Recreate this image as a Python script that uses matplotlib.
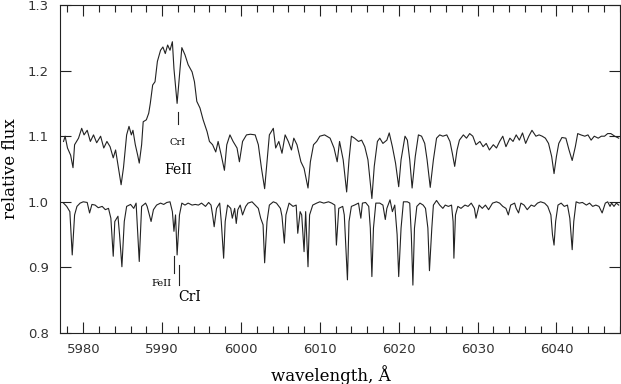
import matplotlib
matplotlib.use("Agg")
import matplotlib.pyplot as plt
from matplotlib.ticker import MultipleLocator

# upper spectrum (shifted by +0.1)
wl_top = [5977.5, 5977.7, 5978.0, 5978.4, 5978.7, 5978.9, 5979.4, 5979.8, 5980.1, 5980.5,
          5980.9, 5981.3, 5981.7, 5982.2, 5982.6, 5983.0, 5983.4, 5983.8, 5984.1, 5984.4,
          5984.8, 5985.1, 5985.5, 5985.8, 5986.1, 5986.3, 5986.6, 5986.9, 5987.1, 5987.4,
          5987.6, 5988.0, 5988.3, 5988.5, 5988.8, 5989.1, 5989.4, 5989.8, 5990.1, 5990.4,
          5990.7, 5991.0, 5991.3, 5991.5, 5991.9, 5992.2, 5992.5, 5992.9, 5993.3, 5993.8,
          5994.1, 5994.4, 5994.8, 5995.2, 5995.7, 5996.0, 5996.4, 5996.8, 5997.1, 5997.5,
          5997.9, 5998.2, 5998.6, 5999.0, 5999.5, 5999.8, 6000.2, 6000.7, 6001.2, 6001.8,
          6002.2, 6002.6, 6003.0, 6003.3, 6003.6, 6004.1, 6004.4, 6004.8, 6005.2, 6005.6,
          6006.0, 6006.4, 6006.7, 6007.1, 6007.6, 6008.0, 6008.5, 6008.8, 6009.2, 6009.6,
          6010.0, 6010.6, 6011.3, 6011.8, 6012.2, 6012.5, 6012.96, 6013.4, 6013.7, 6014.0,
          6014.4, 6014.9, 6015.3, 6015.7, 6016.1, 6016.6, 6016.9, 6017.3, 6017.6, 6018.0,
          6018.5, 6018.8, 6019.2, 6019.6, 6020.0, 6020.3, 6020.8, 6021.1, 6021.4, 6021.7,
          6022.1, 6022.5, 6022.9, 6023.3, 6023.6, 6024.0, 6024.4, 6024.8, 6025.2, 6025.6,
          6026.1, 6026.5, 6026.8, 6027.1, 6027.4, 6027.7, 6028.2, 6028.6, 6029.0, 6029.4,
          6029.8, 6030.3, 6030.7, 6031.1, 6031.5, 6032.0, 6032.4, 6032.8, 6033.2, 6033.6,
          6034.1, 6034.5, 6034.9, 6035.3, 6035.7, 6036.1, 6036.5, 6036.9, 6037.4, 6037.8,
          6038.2, 6038.6, 6039.0, 6039.4, 6039.7, 6040.0, 6040.3, 6040.7, 6041.2, 6041.6,
          6042.0, 6042.4, 6042.7, 6043.1, 6043.6, 6044.0, 6044.4, 6044.8, 6045.3, 6045.7,
          6046.1, 6046.5, 6046.9, 6047.4, 6047.9]
flux_top = [1.092, 1.100, 1.082, 1.071, 1.052, 1.087, 1.097, 1.112, 1.102, 1.109,
            1.092, 1.102, 1.090, 1.100, 1.082, 1.092, 1.084, 1.067, 1.079, 1.056,
            1.026, 1.052, 1.102, 1.115, 1.102, 1.109, 1.087, 1.071, 1.059, 1.087,
            1.122, 1.125, 1.135, 1.150, 1.178, 1.183, 1.214, 1.231, 1.236, 1.226,
            1.239, 1.231, 1.244, 1.203, 1.150, 1.193, 1.235, 1.224, 1.209, 1.198,
            1.183, 1.153, 1.143, 1.125, 1.107, 1.092, 1.087, 1.076, 1.092, 1.071,
            1.048, 1.087, 1.102, 1.092, 1.082, 1.061, 1.092, 1.102, 1.103, 1.102,
            1.087, 1.051, 1.020, 1.061, 1.102, 1.112, 1.082, 1.092, 1.074, 1.102,
            1.092, 1.079, 1.097, 1.087, 1.061, 1.051, 1.021, 1.061, 1.087, 1.092,
            1.100, 1.102, 1.097, 1.082, 1.061, 1.092, 1.064, 1.015, 1.064, 1.100,
            1.097, 1.092, 1.094, 1.084, 1.064, 1.005, 1.054, 1.092, 1.097, 1.089,
            1.094, 1.105, 1.084, 1.059, 1.023, 1.064, 1.100, 1.094, 1.064, 1.021,
            1.069, 1.102, 1.100, 1.089, 1.064, 1.022, 1.064, 1.097, 1.102, 1.100,
            1.102, 1.092, 1.074, 1.054, 1.079, 1.094, 1.102, 1.097, 1.104, 1.100,
            1.087, 1.092, 1.084, 1.089, 1.079, 1.087, 1.082, 1.092, 1.100, 1.084,
            1.097, 1.092, 1.102, 1.094, 1.105, 1.089, 1.100, 1.109, 1.100, 1.102,
            1.100, 1.097, 1.089, 1.069, 1.043, 1.069, 1.089, 1.098, 1.097, 1.079,
            1.063, 1.084, 1.104, 1.102, 1.100, 1.102, 1.094, 1.100, 1.097, 1.100,
            1.100, 1.104, 1.104, 1.100, 1.097]

# lower spectrum
wl_bot = [5977.5, 5977.9, 5978.3, 5978.6, 5978.9, 5979.2, 5979.6, 5980.0, 5980.5, 5980.8,
          5981.1, 5981.5, 5981.9, 5982.4, 5982.8, 5983.2, 5983.5, 5983.8, 5984.0, 5984.4,
          5984.6, 5984.9, 5985.2, 5985.5, 5986.0, 5986.4, 5986.7, 5987.1, 5987.4, 5987.9,
          5988.1, 5988.6, 5988.9, 5989.3, 5989.8, 5990.2, 5990.6, 5991.0, 5991.3, 5991.5,
          5991.7, 5991.9, 5992.2, 5992.5, 5992.9, 5993.3, 5993.8, 5994.2, 5994.6, 5995.0,
          5995.5, 5995.9, 5996.2, 5996.4, 5996.6, 5996.9, 5997.3, 5997.5, 5997.8, 5998.0,
          5998.3, 5998.7, 5998.9, 5999.2, 5999.4, 5999.6, 5999.9, 6000.2, 6000.6, 6000.9,
          6001.4, 6001.8, 6002.2, 6002.5, 6002.8, 6003.0, 6003.3, 6003.6, 6004.1, 6004.5,
          6005.0, 6005.2, 6005.5, 6005.7, 6006.1, 6006.6, 6007.0, 6007.2, 6007.5, 6007.7,
          6008.0, 6008.2, 6008.5, 6008.7, 6009.1, 6009.6, 6010.0, 6010.5, 6011.1, 6011.5,
          6011.9, 6012.1, 6012.4, 6012.9, 6013.1, 6013.5, 6013.7, 6014.0, 6014.4, 6014.9,
          6015.2, 6015.4, 6015.8, 6016.2, 6016.4, 6016.6, 6016.8, 6017.1, 6017.6, 6018.0,
          6018.3, 6018.5, 6018.9, 6019.2, 6019.5, 6019.8, 6020.0, 6020.3, 6020.6, 6021.1,
          6021.4, 6021.6, 6021.8, 6022.0, 6022.3, 6022.7, 6023.1, 6023.4, 6023.7, 6023.9,
          6024.2, 6024.4, 6024.8, 6025.2, 6025.6, 6025.9, 6026.3, 6026.7, 6026.9, 6027.0,
          6027.2, 6027.5, 6027.9, 6028.4, 6028.8, 6029.2, 6029.6, 6029.8, 6030.2, 6030.6,
          6031.0, 6031.4, 6031.9, 6032.4, 6032.8, 6033.2, 6033.6, 6033.9, 6034.2, 6034.7,
          6034.9, 6035.2, 6035.5, 6035.9, 6036.3, 6036.8, 6037.2, 6037.6, 6038.0, 6038.5,
          6038.9, 6039.3, 6039.5, 6039.7, 6039.9, 6040.2, 6040.6, 6041.0, 6041.4, 6041.7,
          6042.0, 6042.2, 6042.5, 6042.9, 6043.3, 6043.8, 6044.2, 6044.6, 6045.0, 6045.4,
          6045.8, 6046.2, 6046.5, 6046.8, 6047.0, 6047.3, 6047.6, 6047.9]
flux_bot = [0.998, 0.993, 0.985, 0.919, 0.980, 0.993, 0.998, 1.000, 0.999, 0.983,
            0.996, 0.995, 0.991, 0.993, 0.988, 0.990, 0.975, 0.917, 0.970, 0.978,
            0.950, 0.901, 0.970, 0.993, 0.996, 0.990, 0.998, 0.909, 0.993, 0.998,
            0.993, 0.970, 0.988, 0.995, 0.998, 0.996, 0.999, 1.000, 0.985, 0.955,
            0.980, 0.919, 0.980, 0.998, 0.995, 0.998, 0.995, 0.996, 0.995, 0.998,
            0.993, 0.999, 0.995, 0.980, 0.962, 0.990, 0.998, 0.970, 0.914, 0.970,
            0.995, 0.990, 0.975, 0.990, 0.967, 0.988, 0.995, 0.980, 0.993, 0.998,
            1.000, 0.995, 0.990, 0.975, 0.965, 0.907, 0.970, 0.995, 1.000, 0.998,
            0.990, 0.978, 0.937, 0.980, 0.998, 0.993, 0.995, 0.952, 0.985, 0.980,
            0.924, 0.985, 0.901, 0.980, 0.995, 0.998, 1.000, 0.998, 1.000, 0.998,
            0.995, 0.934, 0.990, 0.993, 0.980, 0.881, 0.970, 0.993, 0.995, 0.998,
            0.975, 0.998, 0.999, 0.993, 0.960, 0.886, 0.960, 0.998, 0.998, 0.995,
            0.973, 0.990, 1.003, 0.985, 0.995, 0.950, 0.886, 0.960, 1.000, 1.000,
            0.998, 0.950, 0.873, 0.960, 0.993, 0.998, 0.995, 0.990, 0.960, 0.895,
            0.960, 0.995, 1.002, 0.995, 0.990, 0.995, 0.993, 0.995, 0.970, 0.914,
            0.980, 0.993, 0.990, 0.995, 0.993, 0.998, 0.990, 0.975, 0.995, 0.990,
            0.995, 0.988, 0.998, 1.000, 0.998, 0.993, 0.990, 0.980, 0.995, 0.998,
            0.990, 0.983, 0.998, 0.995, 0.988, 0.995, 0.993, 0.998, 1.000, 0.998,
            0.993, 0.980, 0.950, 0.934, 0.970, 0.995, 0.998, 0.993, 0.995, 0.975,
            0.927, 0.970, 1.000, 0.998, 0.999, 0.995, 0.998, 0.993, 0.995, 0.993,
            0.983, 0.998, 1.000, 0.993, 0.998, 0.993, 0.998, 0.995]

# line markers: (wavelength, y0, y1)
mark_top_cr = (5992.0, 1.119, 1.137)
mark_bot_fe = (5991.5, 0.891, 0.917)
mark_bot_cr = (5992.15, 0.873, 0.904)

fig = plt.figure(figsize=(6.21, 3.84), dpi=100)
ax = fig.add_axes([60 / 621, 1 - 333 / 384, 559.5 / 621, 328 / 384])

ax.plot(wl_top, flux_top, color="#222222", lw=0.8)
ax.plot(wl_bot, flux_bot, color="#222222", lw=0.8)

for w, y0, y1 in [mark_top_cr, mark_bot_fe, mark_bot_cr]:
    ax.plot([w, w], [y0, y1], color="#222222", lw=0.8)

serif = "DejaVu Serif"
ax.text(5992.0, 1.091, "CrI", fontsize=7, family=serif, ha="center", va="center")
ax.text(5992.0, 1.049, "FeII", fontsize=10, family=serif, ha="center", va="center")
ax.text(5991.2, 0.875, "FeII", fontsize=7, family=serif, ha="right", va="center")
ax.text(5992.1, 0.855, "CrI", fontsize=10, family=serif, ha="left", va="center")

ax.set_xlim(5977.05, 6048.0)
ax.set_ylim(0.8, 1.3)
ax.xaxis.set_major_locator(MultipleLocator(10))
ax.xaxis.set_minor_locator(MultipleLocator(2))
ax.yaxis.set_major_locator(MultipleLocator(0.1))
ax.tick_params(which="both", direction="in", top=True, right=True, color="#222222",
               labelsize=9.5, labelcolor="#333333", width=0.8)
ax.tick_params(which="major", length=8)
ax.tick_params(which="minor", length=5)
ax.tick_params(axis="x", pad=7)
ax.tick_params(axis="y", pad=8)
for s in ax.spines.values():
    s.set_linewidth(0.8)
    s.set_color("#222222")

ax.set_xlabel("wavelength, Å", family=serif, fontsize=12, va="center")
ax.set_ylabel("relative flux", family=serif, fontsize=12, va="center")
ax.xaxis.set_label_coords(0.484, -0.128)
ax.yaxis.set_label_coords(-0.089, 0.5)

fig.savefig("out.png", dpi=100)
